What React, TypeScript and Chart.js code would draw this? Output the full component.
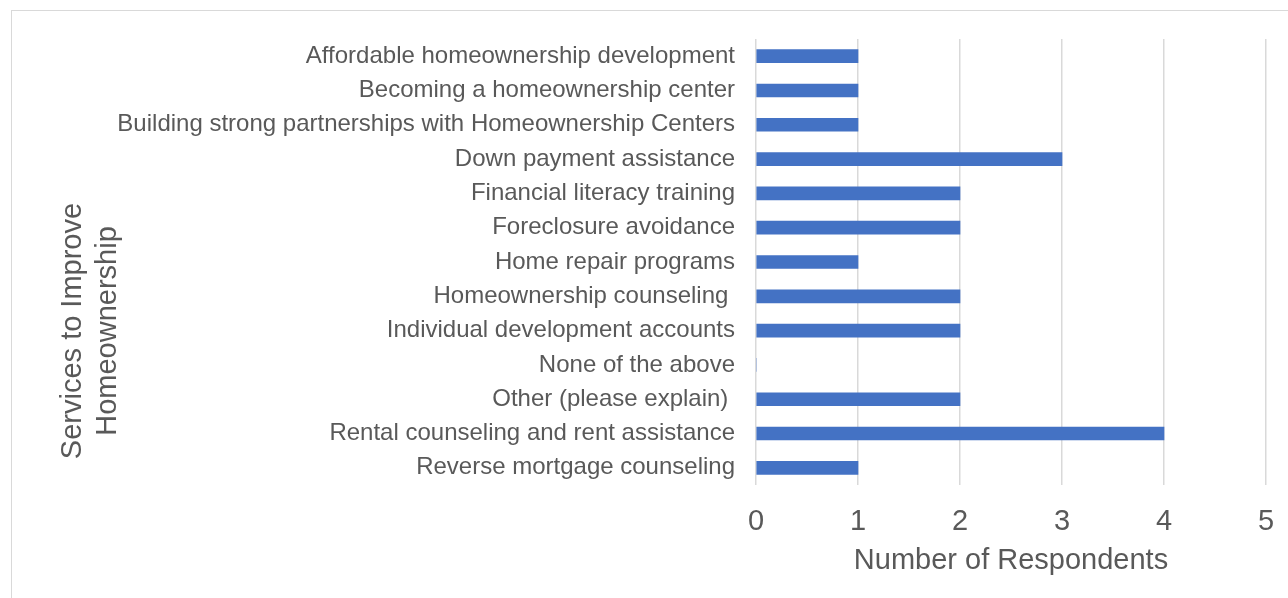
import React, { useEffect, useRef } from "react";
import { Chart, registerables } from "chart.js";

Chart.register(...registerables);

const categories: string[] = [
  "Affordable homeownership development",
  "Becoming a homeownership center",
  "Building strong partnerships with Homeownership Centers",
  "Down payment assistance",
  "Financial literacy training",
  "Foreclosure avoidance",
  "Home repair programs",
  "Homeownership counseling ",
  "Individual development accounts",
  "None of the above",
  "Other (please explain) ",
  "Rental counseling and rent assistance",
  "Reverse mortgage counseling",
];

const respondents: number[] = [1, 1, 1, 3, 2, 2, 1, 2, 2, 0, 2, 4, 1];

const xAxisTitle = "Number of Respondents";
const yAxisTitleLines: string[] = ["Services to Improve", "Homeownership"];

const FONT = "'Liberation Sans', Arial, sans-serif";
const TEXT = "#595959";
const GRID = "#d9d9d9";

const yTitlePlugin = {
  id: "yTitlePlugin",
  afterDraw(chart: any) {
    const ctx = chart.ctx as CanvasRenderingContext2D;
    ctx.save();
    ctx.font = `29px ${FONT}`;
    ctx.fillStyle = TEXT;
    ctx.textAlign = "center";
    ctx.textBaseline = "alphabetic";
    const baselines = [81, 116];
    yAxisTitleLines.forEach((line, i) => {
      ctx.save();
      ctx.translate(baselines[i], 331);
      ctx.rotate(-Math.PI / 2);
      ctx.fillText(line, 0, 0);
      ctx.restore();
    });
    ctx.restore();
  },
};

export default function App() {
  const ref = useRef<HTMLCanvasElement | null>(null);

  useEffect(() => {
    if (!ref.current) return;
    const chart = new Chart(ref.current, {
      type: "bar",
      data: {
        labels: categories,
        datasets: [
          {
            data: respondents,
            backgroundColor: "#4472C4",
            borderWidth: 0,
            barThickness: 13,
          },
        ],
      },
      plugins: [yTitlePlugin],
      options: {
        indexAxis: "y",
        responsive: false,
        animation: false,
        layout: { padding: { top: 39, right: 22, left: 0, bottom: 0 } },
        plugins: {
          legend: { display: false },
          tooltip: { enabled: false },
          title: { display: false },
        },
        scales: {
          x: {
            min: 0,
            max: 5,
            ticks: {
              stepSize: 1,
              padding: 20,
              color: TEXT,
              font: { family: FONT, size: 29 },
            },
            grid: { color: GRID, lineWidth: 1.5, drawTicks: false },
            border: { display: false },
            title: {
              display: true,
              text: xAxisTitle,
              color: TEXT,
              font: { family: FONT, size: 29 },
              padding: { top: 0, bottom: 20 },
            },
            afterFit(scale: any) {
              scale.height = 113;
              scale.paddingRight = 0;
              scale.paddingLeft = 0;
            },
          },
          y: {
            ticks: {
              padding: 21,
              color: TEXT,
              font: { family: FONT, size: 24 },
              autoSkip: false,
            },
            grid: { display: false, drawTicks: false },
            border: { display: false },
            afterFit(scale: any) {
              scale.width = 756;
              scale.paddingTop = 0;
              scale.paddingBottom = 0;
            },
          },
        },
      },
    } as any);
    return () => chart.destroy();
  }, []);

  return (
    <div
      style={{
        position: "fixed",
        left: 0,
        top: 0,
        width: 1288,
        height: 598,
        overflow: "hidden",
        background: "#ffffff",
      }}
    >
      <div
        style={{
          position: "absolute",
          left: 11,
          top: 10,
          width: 1300,
          height: 620,
          border: "1px solid #d9d9d9",
          boxSizing: "border-box",
        }}
      />
      <canvas
        ref={ref}
        width={1288}
        height={598}
        style={{ position: "absolute", left: 0, top: 0, width: 1288, height: 598 }}
      />
    </div>
  );
}
